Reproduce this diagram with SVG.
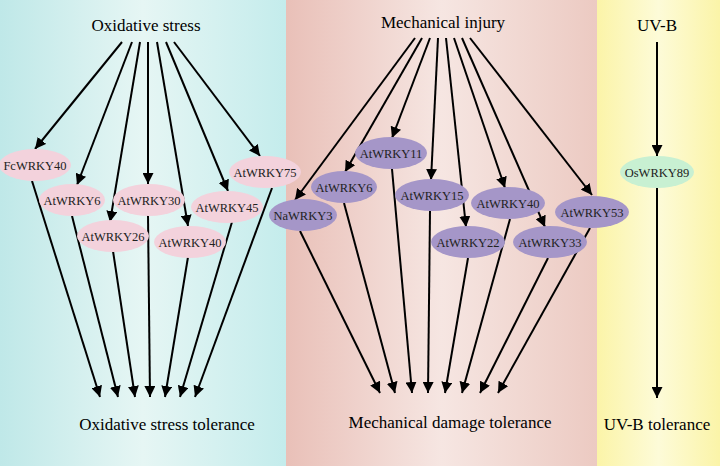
<svg xmlns="http://www.w3.org/2000/svg" width="720" height="466" viewBox="0 0 720 466">
<defs>
<linearGradient id="gb" x1="0" x2="1" y1="0" y2="0"><stop offset="0" stop-color="#bfe8e8"/><stop offset="0.5" stop-color="#e6f6f4"/><stop offset="1" stop-color="#c4ecec"/></linearGradient>
<linearGradient id="gp" x1="0" x2="1" y1="0" y2="0"><stop offset="0" stop-color="#e9c0b8"/><stop offset="0.5" stop-color="#f6e6e2"/><stop offset="1" stop-color="#eccac2"/></linearGradient>
<linearGradient id="gy" x1="0" x2="1" y1="0" y2="0"><stop offset="0" stop-color="#fbf4a8"/><stop offset="0.5" stop-color="#fdfbd8"/><stop offset="1" stop-color="#fbf4a8"/></linearGradient>
<marker id="ah" viewBox="0 0 10 10" refX="10" refY="5" markerWidth="5.5" markerHeight="5.5" orient="auto" markerUnits="strokeWidth"><path d="M0,0 L10,5 L0,10 z" fill="#000"/></marker>
<style>
text{font-family:'Liberation Serif','Times New Roman','DejaVu Serif',serif;text-anchor:middle}
.t{font-size:17px;fill:#000}
.n{font-size:12.5px;fill:#222}
.pk{fill:#f3d2dc}
.pu{fill:#a596c8}
.gr{fill:#c8f0d2}
#edges line{stroke:#000;stroke-width:2;marker-end:url(#ah)}
</style>
</defs>
<rect x="0" y="0" width="286" height="466" fill="url(#gb)"/>
<rect x="286" y="0" width="311" height="466" fill="url(#gp)"/>
<rect x="597" y="0" width="123" height="466" fill="url(#gy)"/>
<g id="labels">
<text class="t" x="146" y="31">Oxidative stress</text>
<text class="t" x="443" y="28">Mechanical injury</text>
<text class="t" x="657" y="31">UV-B</text>
<text class="t" x="167" y="430">Oxidative stress tolerance</text>
<text class="t" x="450" y="428">Mechanical damage tolerance</text>
<text class="t" x="657" y="430">UV-B tolerance</text>
</g>
<g id="edges">
<line x1="122" y1="42" x2="35" y2="149"/>
<line x1="132" y1="42" x2="77" y2="185"/>
<line x1="140" y1="42" x2="110" y2="222"/>
<line x1="148" y1="42" x2="148" y2="184"/>
<line x1="157" y1="42" x2="188" y2="226"/>
<line x1="166" y1="42" x2="228" y2="191"/>
<line x1="174" y1="42" x2="260" y2="156"/>
<line x1="32" y1="181" x2="100" y2="397"/>
<line x1="72" y1="216" x2="118" y2="397"/>
<line x1="113" y1="251" x2="135" y2="397"/>
<line x1="148" y1="215" x2="150" y2="397"/>
<line x1="188" y1="257" x2="165" y2="397"/>
<line x1="232" y1="222" x2="180" y2="397"/>
<line x1="272" y1="188" x2="195" y2="397"/>
<line x1="415" y1="38" x2="295" y2="200"/>
<line x1="422" y1="38" x2="345" y2="172"/>
<line x1="430" y1="38" x2="392" y2="138"/>
<line x1="438" y1="38" x2="431" y2="180"/>
<line x1="446" y1="38" x2="466" y2="227"/>
<line x1="454" y1="38" x2="505" y2="188"/>
<line x1="462" y1="38" x2="545" y2="227"/>
<line x1="470" y1="38" x2="592" y2="195"/>
<line x1="300" y1="231" x2="380" y2="393"/>
<line x1="344" y1="203" x2="395" y2="393"/>
<line x1="392" y1="169" x2="412" y2="393"/>
<line x1="430" y1="211" x2="428" y2="393"/>
<line x1="468" y1="258" x2="445" y2="393"/>
<line x1="510" y1="219" x2="462" y2="393"/>
<line x1="548" y1="258" x2="480" y2="393"/>
<line x1="590" y1="228" x2="498" y2="393"/>
<line x1="657" y1="42" x2="657" y2="156"/>
<line x1="657" y1="188" x2="657" y2="398"/>
</g>
<g id="FcWRKY40"><ellipse class="pk" cx="35" cy="165" rx="36" ry="16"/><text class="n" x="35" y="170">FcWRKY40</text></g>
<g id="AtWRKY6a"><ellipse class="pk" cx="72" cy="200" rx="33" ry="16"/><text class="n" x="72" y="205">AtWRKY6</text></g>
<g id="AtWRKY30"><ellipse class="pk" cx="149" cy="200" rx="36" ry="16"/><text class="n" x="149" y="205">AtWRKY30</text></g>
<g id="AtWRKY26"><ellipse class="pk" cx="113" cy="236" rx="36" ry="16"/><text class="n" x="113" y="241">AtWRKY26</text></g>
<g id="AtWRKY40a"><ellipse class="pk" cx="190" cy="242" rx="36" ry="16"/><text class="n" x="190" y="247">AtWRKY40</text></g>
<g id="AtWRKY45"><ellipse class="pk" cx="227" cy="207" rx="36" ry="16"/><text class="n" x="227" y="212">AtWRKY45</text></g>
<g id="AtWRKY75"><ellipse class="pk" cx="265" cy="172" rx="36" ry="16"/><text class="n" x="265" y="177">AtWRKY75</text></g>
<g id="NaWRKY3"><ellipse class="pu" cx="303" cy="215" rx="34" ry="16"/><text class="n" x="303" y="220">NaWRKY3</text></g>
<g id="AtWRKY6b"><ellipse class="pu" cx="344" cy="187" rx="33" ry="16"/><text class="n" x="344" y="192">AtWRKY6</text></g>
<g id="AtWRKY11"><ellipse class="pu" cx="391" cy="153" rx="36" ry="16"/><text class="n" x="391" y="158">AtWRKY11</text></g>
<g id="AtWRKY15"><ellipse class="pu" cx="432" cy="195" rx="37" ry="16"/><text class="n" x="432" y="200">AtWRKY15</text></g>
<g id="AtWRKY40b"><ellipse class="pu" cx="508" cy="203" rx="37" ry="16"/><text class="n" x="508" y="208">AtWRKY40</text></g>
<g id="AtWRKY22"><ellipse class="pu" cx="468" cy="242" rx="37" ry="16"/><text class="n" x="468" y="247">AtWRKY22</text></g>
<g id="AtWRKY33"><ellipse class="pu" cx="550" cy="242" rx="37" ry="16"/><text class="n" x="550" y="247">AtWRKY33</text></g>
<g id="AtWRKY53"><ellipse class="pu" cx="592" cy="212" rx="37" ry="16"/><text class="n" x="592" y="217">AtWRKY53</text></g>
<g id="OsWRKY89"><ellipse class="gr" cx="657" cy="172" rx="37" ry="16"/><text class="n" x="657" y="177">OsWRKY89</text></g>
</svg>
